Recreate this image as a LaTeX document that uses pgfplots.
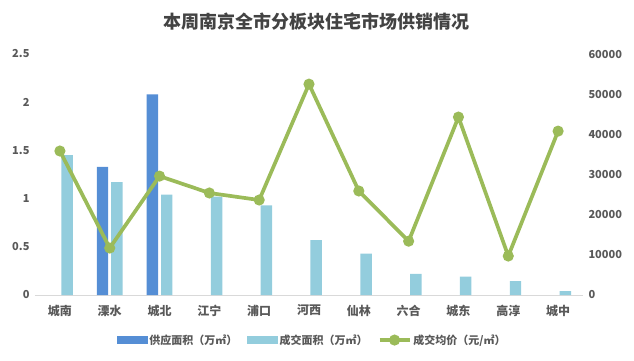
\documentclass[border=0pt]{standalone}
\usepackage{fontspec}
\setmainfont{Noto Sans CJK SC}
\usepackage{pgfplots}
\pgfplotsset{compat=1.18}
\definecolor{supply}{HTML}{558ED5}
\definecolor{deal}{HTML}{93CDDD}
\definecolor{price}{HTML}{9BBB59}
\definecolor{txt}{HTML}{595959}
\definecolor{axisgray}{HTML}{D9D9D9}
\pgfplotsset{linelegend/.style={legend image code/.code={\draw[##1, mark repeat=2, mark phase=2] plot coordinates {(0pt,0pt) (15pt,0pt) (30pt,0pt)};}}}
\begin{document}
\begin{tikzpicture}[x=1pt,y=1pt]
\useasboundingbox (0,0) rectangle (634,360);
\node[font=\fontsize{18}{22}\selectfont\bfseries, text=txt!75!black] at (316,338) {本周南京全市分板块住宅市场供销情况};
\pgfplotsset{common/.style={
  at={(35pt,65pt)}, anchor=south west, scale only axis,
  width=548pt, height=241pt, xmin=-0.5, xmax=10.5, ymin=0,
  tick style={draw=none},
  /pgf/number format/assume math mode=true,
  ticklabel style={font=\fontsize{11}{13}\selectfont\bfseries, text=txt},
}}
\begin{axis}[common, ymax=2.5,
  axis x line*=bottom, axis y line*=left,
  y axis line style={draw=none},
  x axis line style={axisgray, line width=1pt},
  xtick={0,...,10},
  xticklabels={城南,溧水,城北,江宁,浦口,河西,仙林,六合,城东,高淳,城中},
  xticklabel style={font=\fontsize{12}{14}\selectfont\bfseries, yshift=-2pt},
  ytick={0,0.5,1,1.5,2,2.5},
  yticklabel style={xshift=-2pt},
  ybar, bar width=0.23,
]
\addplot[fill=supply, draw=none, bar shift=-0.145] coordinates {(1,1.33) (2,2.08)};
\addplot[fill=deal, draw=none, bar shift=0.145] coordinates {
(0,1.45) (1,1.17) (2,1.04) (3,1.02) (4,0.93) (5,0.57) (6,0.43) (7,0.22) (8,0.19) (9,0.145) (10,0.04)};
\end{axis}
\begin{axis}[common, ymax=60000,
  axis x line=none, axis y line*=right,
  y axis line style={draw=none},
  ytick={0,10000,...,60000},
  scaled y ticks=false,
  /pgf/number format/fixed, /pgf/number format/1000 sep={},
  yticklabel style={xshift=2pt},
  legend style={at={(0.506,-0.187)}, anchor=center, draw=none, fill=none,
    legend columns=3, font=\fontsize{11}{13}\selectfont\bfseries, text=txt,
    /tikz/every even column/.append style={column sep=8pt}},
  legend cell align=left,
]
\addlegendimage{legend image code/.code={\fill[supply] (0pt,-3.5pt) rectangle (30pt,3.5pt);}}
\addlegendentry{供应面积（万㎡）}
\addlegendimage{legend image code/.code={\fill[deal] (0pt,-3.5pt) rectangle (30pt,3.5pt);}}
\addlegendentry{成交面积（万㎡）}
\addplot[price, line width=3.7pt, mark=*, mark size=3.6pt, linelegend]
 coordinates {
(0,35850) (1,11700) (2,29600) (3,25400) (4,23650) (5,52500) (6,25900) (7,13400) (8,44300) (9,9700) (10,40800)};
\addlegendentry{成交均价（元/㎡）}
\end{axis}
\end{tikzpicture}
\end{document}
